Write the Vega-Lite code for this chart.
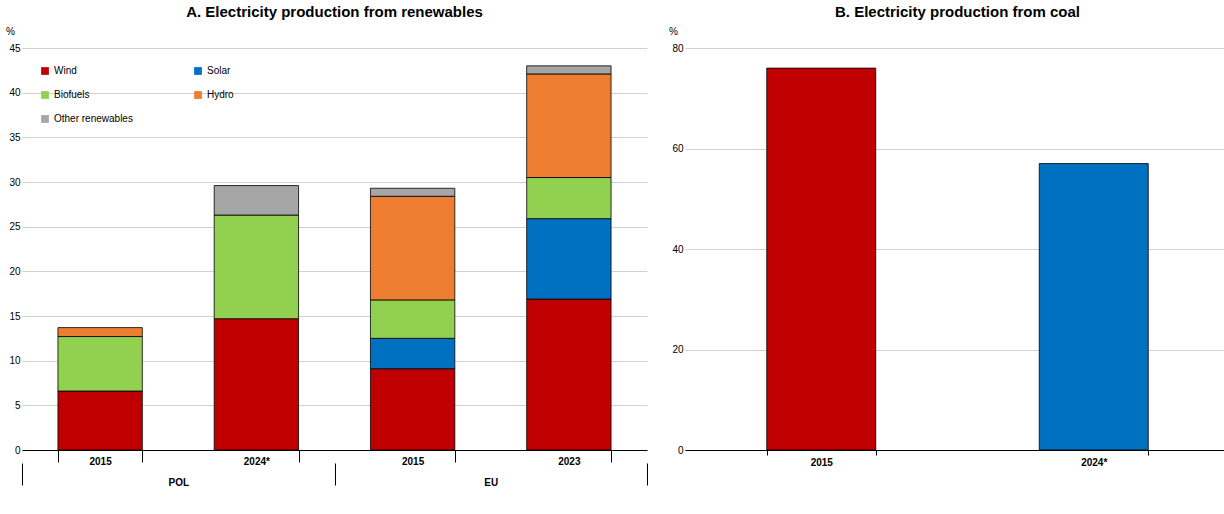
{
  "$schema": "https://vega.github.io/schema/vega-lite/v6.json",
  "background": "white",
  "padding": {"left": 5, "top": 5, "right": 2, "bottom": 5},
  "config": {
    "font": "Liberation Sans",
    "view": {"stroke": null},
    "axis": {"labelFontSize": 10, "labelColor": "#000", "domainColor": "#000", "tickColor": "#000", "gridColor": "#d0d0d0"},
    "title": {"fontSize": 15, "fontWeight": "bold", "font": "Liberation Sans", "anchor": "middle", "offset": 6}
  },
  "spacing": 20,
  "resolve": {"scale": {"color": "independent"}},
  "hconcat": [
    {
      "title": "A. Electricity production from renewables",
      "width": 625,
      "height": 402,
      "data": {"values": [
        {"c": "POL|2015", "g": "POL", "s": "Wind", "o": 1, "v": 6.6},
        {"c": "POL|2015", "g": "POL", "s": "Biofuels", "o": 3, "v": 6.1},
        {"c": "POL|2015", "g": "POL", "s": "Hydro", "o": 4, "v": 1.0},
        {"c": "POL|2024*", "g": "POL", "s": "Wind", "o": 1, "v": 14.7},
        {"c": "POL|2024*", "g": "POL", "s": "Biofuels", "o": 3, "v": 11.6},
        {"c": "POL|2024*", "g": "POL", "s": "Other renewables", "o": 5, "v": 3.3},
        {"c": "EU|2015", "g": "EU", "s": "Wind", "o": 1, "v": 9.1},
        {"c": "EU|2015", "g": "EU", "s": "Solar", "o": 2, "v": 3.4},
        {"c": "EU|2015", "g": "EU", "s": "Biofuels", "o": 3, "v": 4.3},
        {"c": "EU|2015", "g": "EU", "s": "Hydro", "o": 4, "v": 11.6},
        {"c": "EU|2015", "g": "EU", "s": "Other renewables", "o": 5, "v": 0.9},
        {"c": "EU|2023", "g": "EU", "s": "Wind", "o": 1, "v": 16.9},
        {"c": "EU|2023", "g": "EU", "s": "Solar", "o": 2, "v": 9.0},
        {"c": "EU|2023", "g": "EU", "s": "Biofuels", "o": 3, "v": 4.6},
        {"c": "EU|2023", "g": "EU", "s": "Hydro", "o": 4, "v": 11.6},
        {"c": "EU|2023", "g": "EU", "s": "Other renewables", "o": 5, "v": 0.9}
      ]},
      "layer": [
        {
          "mark": {"type": "bar", "stroke": "#000", "strokeWidth": 0.8},
          "encoding": {
            "x": {"field": "c", "type": "nominal", "sort": ["POL|2015", "POL|2024*", "EU|2015", "EU|2023"],
                  "scale": {"paddingInner": 0.46, "paddingOuter": 0.23},
                  "axis": {"title": null, "labelExpr": "split(datum.label, '|')[1]", "labelAngle": 0, "labelFontWeight": "bold", "labelFontSize": 10, "tickBand": "extent", "tickSize": 12, "labelPadding": -6}},
            "y": {"field": "v", "type": "quantitative", "stack": "zero",
                  "scale": {"domain": [0, 45]},
                  "axis": {"title": "%", "titleAngle": 0, "titleFontWeight": "normal", "titleFontSize": 10, "titleX": -12, "titleY": -12, "values": [0,5,10,15,20,25,30,35,40,45], "labelOverlap": false, "domain": false, "ticks": false}},
            "color": {"field": "s", "type": "nominal",
                      "scale": {"domain": ["Wind", "Solar", "Biofuels", "Hydro", "Other renewables"], "range": ["#C00000", "#0070C0", "#92D050", "#ED7D31", "#A6A6A6"]},
                      "legend": {"title": null, "orient": "top-left", "columns": 2, "columnPadding": 60, "rowPadding": 14, "symbolType": "square", "symbolSize": 60, "labelFontSize": 10, "offset": 18, "symbolStrokeWidth": 0,
                                 "values": ["Wind", "Biofuels", "Other renewables", "Solar", "Hydro"]}},
            "order": {"field": "o", "type": "quantitative"}
          }
        },
        {
          "data": {"values": [{"g": "POL"}, {"g": "EU"}]},
          "mark": {"type": "point", "opacity": 0},
          "encoding": {
            "x": {"field": "g", "type": "nominal", "sort": ["POL", "EU"],
                  "axis": {"title": null, "orient": "bottom", "offset": 13, "labelAngle": 0, "labelFontWeight": "bold", "domain": false, "tickBand": "extent", "tickSize": 22, "labelPadding": -8}},
            "y": {"datum": 0}
          }
        }
      ],
      "resolve": {"scale": {"x": "independent"}}
    },
    {
      "title": "B. Electricity production from coal",
      "width": 545,
      "height": 402,
      "data": {"values": [
        {"y": "2015", "v": 76, "s": "a"},
        {"y": "2024*", "v": 57, "s": "b"}
      ]},
      "mark": {"type": "bar", "stroke": "#000", "strokeWidth": 0.8},
      "encoding": {
        "x": {"field": "y", "type": "nominal", "scale": {"paddingInner": 0.6, "paddingOuter": 0.3},
              "axis": {"title": null, "labelAngle": 0, "labelFontWeight": "bold", "tickBand": "extent", "tickSize": 5}},
        "y": {"field": "v", "type": "quantitative", "scale": {"domain": [0, 80]},
              "axis": {"title": "%", "titleAngle": 0, "titleFontWeight": "normal", "titleFontSize": 10, "titleX": -12, "titleY": -12, "values": [0,20,40,60,80], "domain": false, "ticks": false}},
        "color": {"field": "s", "type": "nominal", "scale": {"domain": ["a", "b"], "range": ["#C00000", "#0070C0"]}, "legend": null}
      }
    }
  ]
}
